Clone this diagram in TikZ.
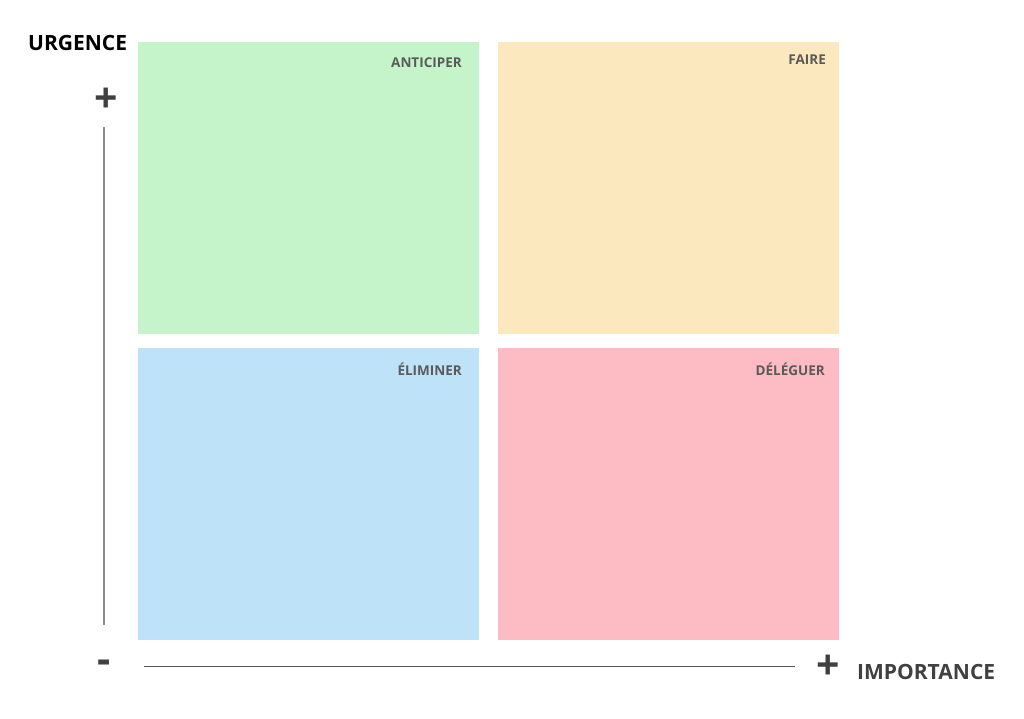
\documentclass[tikz,border=0pt]{standalone}
\usepackage{fontspec}
\setmainfont{Open Sans}
\usetikzlibrary{positioning}
\definecolor{anticiper}{HTML}{C5F4CB}
\definecolor{faire}{HTML}{FCE8BF}
\definecolor{eliminer}{HTML}{BEE3F8}
\definecolor{deleguer}{HTML}{FDBCC3}
\definecolor{labelgray}{HTML}{5A5A5A}
\definecolor{axisgray}{HTML}{8A8A8A}

\begin{document}
\begin{tikzpicture}[x=1pt,y=-1pt,font=\bfseries,
    quadrant/.style={draw=none,inner sep=0pt,minimum width=341pt,minimum height=292pt,anchor=north west},
    qlabel/.style={text=labelgray,font=\bfseries\fontsize{13.5}{16}\selectfont,anchor=base east,inner sep=0pt},
    axislabel/.style={font=\bfseries\fontsize{21}{24}\selectfont,anchor=base west,inner sep=0pt},
    sign/.style={text=black!75,font=\bfseries\fontsize{41}{41}\selectfont,inner sep=0pt},
    axis/.style={line width=1pt}]
    \useasboundingbox[fill=white] (0,0) rectangle (1024,719);
    \node[quadrant,fill=anticiper] (anticiper) at (138,42) {};
    \node[quadrant,fill=faire] (faire) at (498,42) {};
    \node[quadrant,fill=eliminer] (eliminer) at (138,348) {};
    \node[quadrant,fill=deleguer] (deleguer) at (498,348) {};

    \node[qlabel] (lanticiper) at (462,68) {ANTICIPER};
    \node[qlabel] (lfaire) at (826,65) {FAIRE};
    \node[qlabel] (leliminer) at (462,375) {ÉLIMINER};
    \node[qlabel] (ldeleguer) at (825,375) {DÉLÉGUER};

    \node[axislabel] (urgence) at (28,51) {URGENCE};
    \node[axislabel,text=black!75] (importance) at (857,679) {IMPORTANCE};
    \node[sign] (uplus) at (106,100) {+};
    \node[sign] (uminus) at (104,667) {-};
    \node[sign] (iplus) at (828.5,667) {+};

    \coordinate (vtop) at (104,127);
    \coordinate (vbot) at (104,625);
    \coordinate (hleft) at (144,666);
    \coordinate (hright) at (795,666);
    \draw[axis,axisgray,line width=1.5pt] (vtop) -- (vbot);
    \draw[axis,black!65] (hleft) -- (hright);
\end{tikzpicture}
\end{document}
